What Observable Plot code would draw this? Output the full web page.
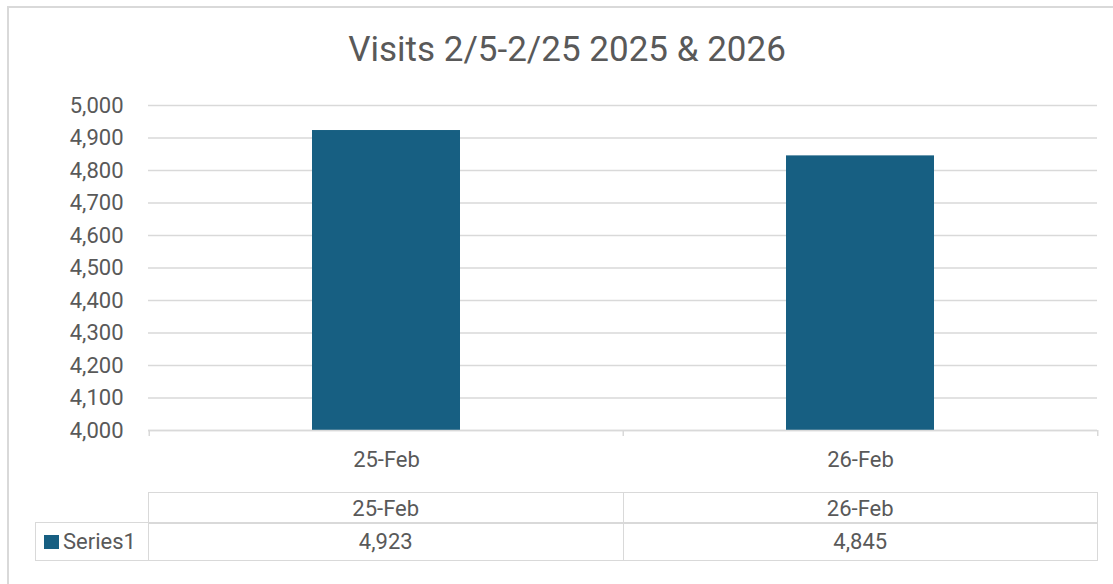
<!DOCTYPE html>
<html>
<head>
<meta charset="utf-8">
<script src="https://cdn.jsdelivr.net/npm/d3@7"></script>
<script src="https://cdn.jsdelivr.net/npm/@observablehq/plot@0.6"></script>
<style>
  html, body { margin: 0; padding: 0; width: 1113px; height: 584px; overflow: hidden; background: #fff; }
  body { position: relative; font-family: Roboto, "Open Sans", sans-serif; color: #595959; }
  #frame { position: absolute; left: 7px; top: 6px; width: 1200px; height: 700px; border: 2px solid #d9d9d9; box-sizing: border-box; }
  #title { position: absolute; left: 0; width: 1134px; top: 28px; text-align: center; font-size: 35px; line-height: 44px; color: #595959; white-space: nowrap; }
  #chart { position: absolute; left: 0; top: 90px; }
  .cell { position: absolute; box-sizing: border-box; border: 1.5px solid #d9d9d9; font-size: 22px; color: #595959; display: flex; align-items: center; justify-content: center; white-space: nowrap; }
  .cell.left { justify-content: flex-start; padding-left: 8px; }
  .swatch { display: inline-block; width: 15px; height: 14px; margin-right: 4px; }
</style>
</head>
<body>
<div id="frame"></div>
<div id="title"></div>
<div id="chart"></div>
<div id="table"></div>
<script>
const title = "Visits 2/5-2/25 2025 & 2026";
const categories = ["25-Feb", "26-Feb"];
const values = [4923, 4845];
const seriesName = "Series1";
const yTicks = [4000, 4100, 4200, 4300, 4400, 4500, 4600, 4700, 4800, 4900, 5000];
const barColor = "#175f82";
const gridColor = "#d9d9d9";
const textColor = "#595959";

const data = categories.map((c, i) => ({cat: c, value: values[i]}));
const fmt = d3.format(",");

document.getElementById("title").textContent = title;

const W = 1113, H = 400, mL = 148, mR = 16, mT = 15, mB = 60;
const frameH = H - mT - mB;
const step = (W - mL - mR) / categories.length;

const chart = Plot.plot({
  width: W,
  height: H,
  marginLeft: mL,
  marginRight: mR,
  marginTop: mT,
  marginBottom: mB,
  style: {fontFamily: "Roboto, 'Open Sans', sans-serif", fontSize: "22px", color: textColor, background: "transparent", overflow: "visible"},
  x: {domain: categories, paddingInner: 0.688, paddingOuter: 0.344, label: null},
  y: {domain: [4000, 5000], label: null},
  marks: [
    Plot.gridY(yTicks, {stroke: gridColor, strokeOpacity: 1, strokeWidth: 1.5}),
    Plot.barY(data, {x: "cat", y1: 4000, y2: "value", fill: barColor}),
    Plot.ruleY([4000], {stroke: gridColor, strokeWidth: 1.5}),
    Plot.ruleX(categories, {x: d => d, dx: -step / 2, stroke: gridColor, strokeWidth: 1.5, insetTop: frameH, insetBottom: -6}),
    Plot.ruleX(categories.slice(-1), {x: d => d, dx: step / 2, stroke: gridColor, strokeWidth: 1.5, insetTop: frameH, insetBottom: -6}),
    Plot.axisY(yTicks, {tickSize: 0, tickPadding: 25, tickFormat: fmt, fill: textColor, fontSize: 22, label: null}),
    Plot.axisX({tickSize: 0, tickPadding: 21, fill: textColor, fontSize: 22, label: null})
  ]
});
document.getElementById("chart").appendChild(chart);

// data table below the chart
const table = document.getElementById("table");
function cell(left, top, w, h, content, cls) {
  const d = document.createElement("div");
  d.className = "cell" + (cls ? " " + cls : "");
  d.style.left = left + "px";
  d.style.top = top + "px";
  d.style.width = w + "px";
  d.style.height = h + "px";
  if (typeof content === "string") d.textContent = content; else d.appendChild(content);
  table.appendChild(d);
}
const rowTop1 = 492, rowH1 = 32, rowTop2 = 522, rowH2 = 39;
categories.forEach((c, i) => {
  const left = mL + i * step;
  cell(left, rowTop1, step + 1, rowH1, c);
  cell(left, rowTop2, step + 1, rowH2, fmt(values[i]));
});
const lab = document.createElement("span");
lab.style.display = "flex"; lab.style.alignItems = "center";
const sw = document.createElement("span");
sw.className = "swatch"; sw.style.background = barColor;
lab.appendChild(sw);
lab.appendChild(document.createTextNode(seriesName));
cell(35, rowTop2, mL - 35 + 1, rowH2, lab, "left");
</script>
</body>
</html>
